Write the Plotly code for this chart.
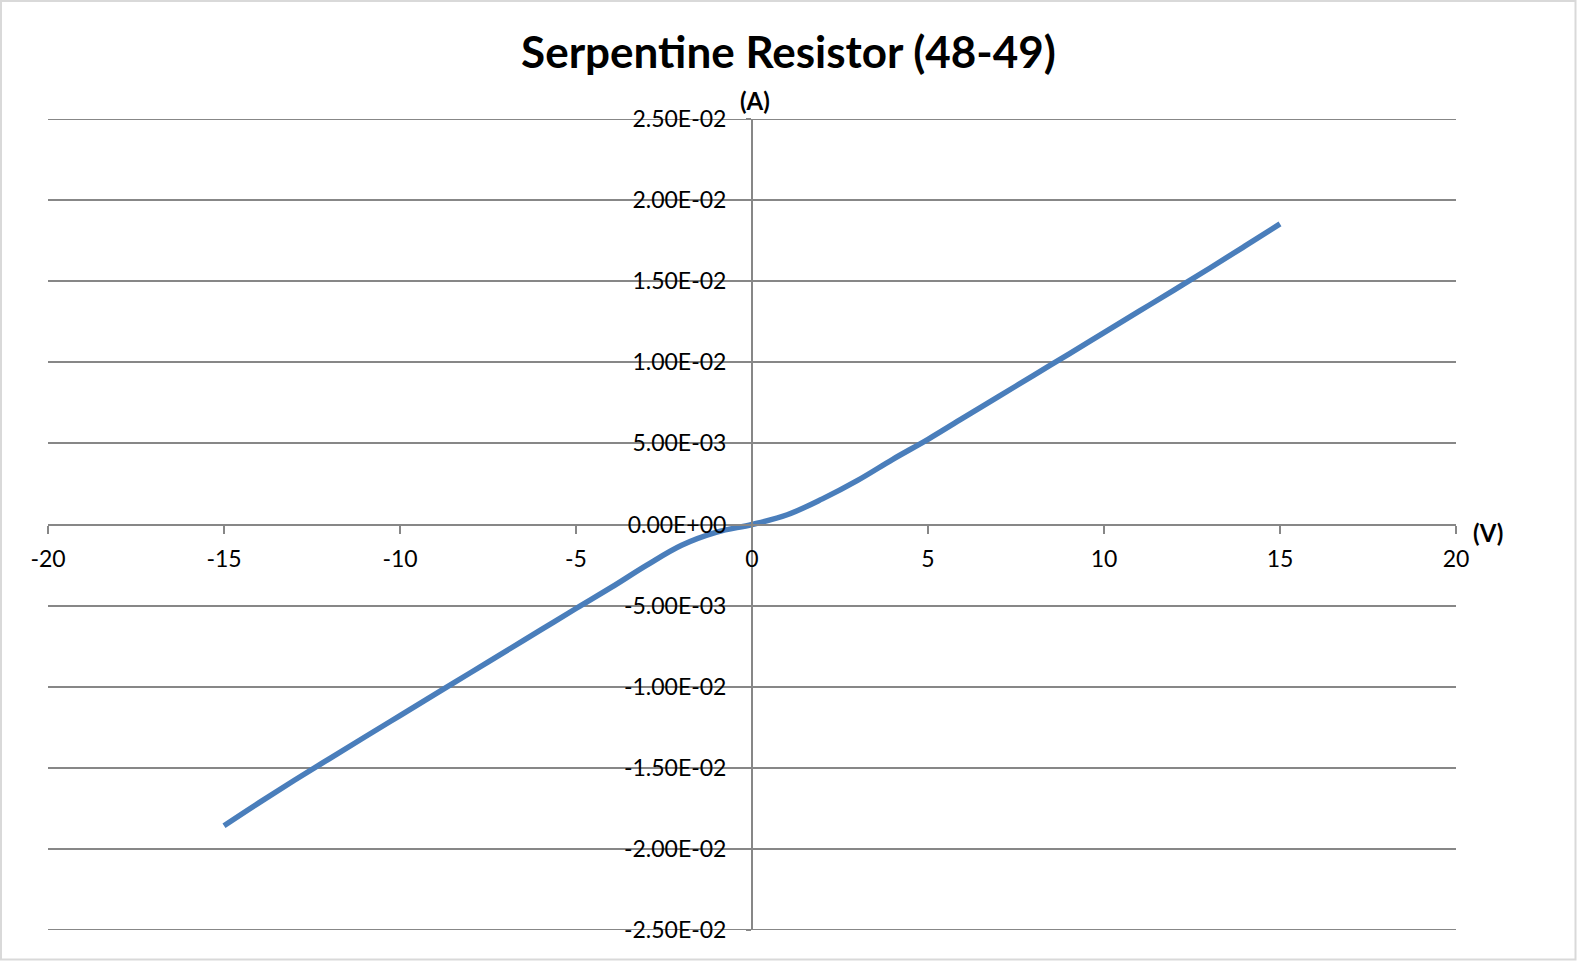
import plotly.graph_objects as go

# Data
voltage = [-15, -14, -13, -12, -11, -10, -9, -8, -7, -6, -5, -4, -3, -2, -1,
           0, 1, 2, 3, 4, 5, 6, 7, 8, 9, 10, 11, 12, 13, 14, 15]
current = [-0.01857, -0.01715, -0.01577, -0.01443, -0.01310, -0.01178, -0.01046,
           -0.00914, -0.00782, -0.00650, -0.00518, -0.00388, -0.00252, -0.00128,
           -0.00047, 0.0, 0.00060, 0.00158, 0.00272, 0.00402, 0.00525, 0.00657,
           0.00788, 0.00920, 0.01051, 0.01183, 0.01315, 0.01447, 0.01580,
           0.01716, 0.01853]

x_ticks = [-20, -15, -10, -5, 0, 5, 10, 15, 20]
y_ticks = [-0.025, -0.02, -0.015, -0.01, -0.005, 0.0, 0.005, 0.01, 0.015, 0.02, 0.025]
y_tick_labels = ["-2.50E-02", "-2.00E-02", "-1.50E-02", "-1.00E-02", "-5.00E-03",
                 "0.00E+00", "5.00E-03", "1.00E-02", "1.50E-02", "2.00E-02", "2.50E-02"]

title_text = "Serpentine Resistor (48-49)"
x_title = "(V)"
y_title = "(A)"

W, H = 1577, 961
L, R, T, B = 48, 121, 119, 31
pw, ph = W - L - R, H - T - B

axis_grey = "#878787"
font_family = "Lato, 'Open Sans', sans-serif"

fig = go.Figure()
fig.add_trace(go.Scatter(
    x=voltage, y=current, mode="lines",
    line=dict(color="#4a7ebb", width=5.5, shape="spline", smoothing=1.0),
    showlegend=False, hoverinfo="x+y",
))

# top and bottom grid lines (edges of the value range)
edge_lines = [
    dict(type="line", xref="paper", yref="y", x0=0, x1=1, y0=yv, y1=yv,
         line=dict(color=axis_grey, width=2), layer="below")
    for yv in (y_ticks[0], y_ticks[-1])
]

fig.update_layout(
    width=W, height=H,
    margin=dict(l=L, r=R, t=T, b=B, autoexpand=False),
    paper_bgcolor="white", plot_bgcolor="white",
    font=dict(family=font_family, size=23, color="black"),
    title=dict(text="<b>" + title_text + "</b>", x=0.5, xref="container",
               xanchor="center", y=1 - 53 / H, yref="container", yanchor="middle",
               font=dict(family=font_family, size=44, color="black")),
    xaxis=dict(
        range=[-20, 20], tickmode="array", tickvals=x_ticks,
        ticktext=[str(v) for v in x_ticks],
        showgrid=False, zeroline=False, showline=True, linecolor=axis_grey,
        linewidth=2, ticks="outside", ticklen=8, tickwidth=2, tickcolor=axis_grey,
        anchor="free", position=0.5, automargin=False,
        ticklabelstandoff=6, tickfont=dict(size=23),
    ),
    yaxis=dict(
        range=[-0.025, 0.025], tickmode="array", tickvals=y_ticks,
        ticktext=y_tick_labels,
        showgrid=True, gridcolor=axis_grey, gridwidth=2,
        zeroline=False, showline=True, linecolor=axis_grey, linewidth=2,
        ticks="outside", ticklen=5, tickwidth=2, tickcolor=axis_grey,
        anchor="free", position=0.5, automargin=False,
        ticklabelstandoff=15, tickfont=dict(size=23),
    ),
    annotations=[
        dict(text="<b>" + y_title + "</b>", x=0, y=0.025, xref="x", yref="y",
             xanchor="left", yanchor="bottom", showarrow=False, xshift=-14, yshift=2,
             font=dict(family=font_family, size=24, color="black")),
        dict(text="<b>" + x_title + "</b>", x=20, y=0, xref="x", yref="y",
             xanchor="left", yanchor="middle", showarrow=False, xshift=15, yshift=-8,
             font=dict(family=font_family, size=24, color="black")),
    ],
    shapes=[
        dict(type="rect", xref="paper", yref="paper",
             x0=(1 - L) / pw, x1=(W - 1.5 - L) / pw,
             y0=-(B - 1.5) / ph, y1=1 + (T - 1) / ph,
             line=dict(color="#d9d9d9", width=2), fillcolor="rgba(0,0,0,0)",
             layer="below"),
    ] + edge_lines,
)

fig.write_html("out.html", config={"displayModeBar": False},
               post_script="document.body.style.margin='0px';document.body.style.overflow='hidden';")
